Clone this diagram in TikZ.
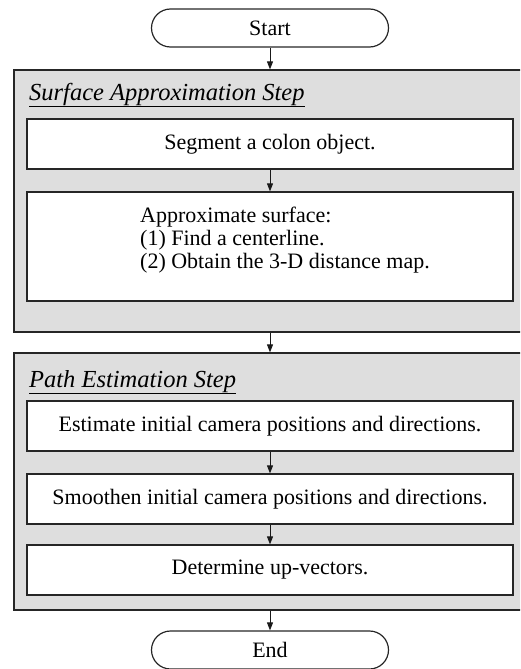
\documentclass[tikz,border=0pt]{standalone}
\usepackage{fontspec}
\setmainfont{Liberation Serif}
\usetikzlibrary{arrows.meta,shapes.misc}

\newcommand{\flowfont}{\fontsize{22}{23}\selectfont}
\newcommand{\titlefont}{\fontsize{24.5}{26}\selectfont\itshape}

\tikzset{
	terminal/.style={draw=black!85, line width=1.2pt, rounded rectangle,
		minimum width=237pt, minimum height=38pt, inner sep=0pt},
	group/.style={draw=black!85, fill=black!13, line width=1.2pt, inner sep=0pt},
	stepbox/.style={draw=black!85, fill=white, line width=1.2pt, inner sep=0pt,
		minimum width=486pt},
	grouptitle/.style={anchor=base west, inner sep=0pt, font=\titlefont},
	flow/.style={draw=black!90, line width=0.9pt, -{Triangle[length=8pt,width=6pt]}}
}

\begin{document}
\begin{tikzpicture}[x=1pt, y=-1pt, font=\flowfont]
	\useasboundingbox (0,0) rectangle (520,669);
	\clip (0,0) rectangle (520,669);

	\node[terminal] (start) at (270,28) {Start};

	% surface approximation
	\node[group, minimum width=512pt, minimum height=262pt] (g1) at (270,201) {};
	\node[grouptitle] (t1) at (29,100) {\underline{Surface Approximation Step}};
	\node[stepbox, minimum height=50pt] (seg) at (270,144) {Segment a colon object.};
	\node[stepbox, minimum height=109pt] (approx) at (270,246.5) {};
	\node[anchor=west, align=left, inner sep=0pt] (approxtxt) at (140,240)
		{Approximate surface:\\(1) Find a centerline.\\(2) Obtain the 3-D distance map.};

	% path estimation
	\node[group, minimum width=512pt, minimum height=257pt] (g2) at (270,481.5) {};
	\node[grouptitle] (t2) at (29,387) {\underline{Path Estimation Step}};
	\node[stepbox, minimum height=50pt] (est) at (270,426) {Estimate initial camera positions and directions.};
	\node[stepbox, minimum height=50pt] (smo) at (270,499) {Smoothen initial camera positions and directions.};
	\node[stepbox, minimum height=50pt] (det) at (270,570) {Determine up-vectors.};

	\node[terminal] (end) at (270,650) {End};

	\foreach \i / \j in {
	start/g1,
	seg/approx,
	g1/g2,
	est/smo,
	smo/det,
	g2/end}
	{
		\path[flow] (\i.south) -- (\j.north);
	};
\end{tikzpicture}
\end{document}
